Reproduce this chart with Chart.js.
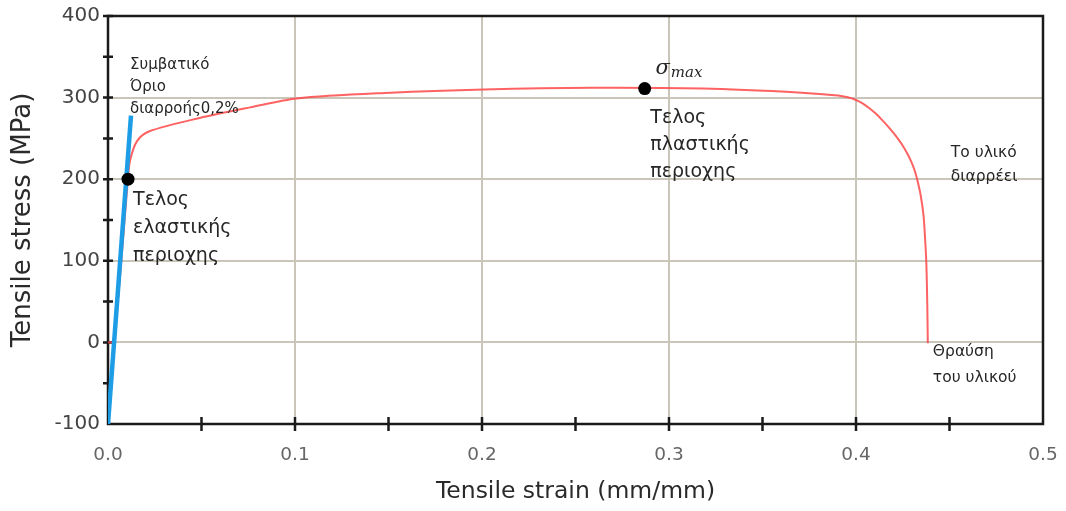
<!DOCTYPE html>
<html lang="el">
<head>
<meta charset="UTF-8">
<title>Tensile stress-strain</title>
<script src="https://cdn.jsdelivr.net/npm/chart.js"></script>
<style>
  html, body { margin: 0; padding: 0; background: #fff; }
  #wrap { width: 1066px; height: 511px; }
</style>
</head>
<body>
<div id="wrap"><canvas id="myChart" width="1066" height="511"></canvas></div>
<script>
// stress-strain curve
const curveStrain = [0, 0.003, 0.0107, 0.0118, 0.0156, 0.0225, 0.049, 0.076, 0.101, 0.151, 0.201, 0.259, 0.318, 0.371,
  0.3904, 0.3956, 0.3997, 0.4035, 0.4070, 0.4107, 0.4144, 0.4180, 0.4214, 0.4245, 0.4272, 0.4296, 0.4315, 0.4329,
  0.4346, 0.4361, 0.4369, 0.4376, 0.4381, 0.4384];
const curveStress = [0, 1, 200, 223, 247, 259, 275, 288, 299, 306, 310, 312, 311, 306,
  302.6, 300.4, 297.4, 293, 287.3, 280.1, 271.5, 262.4, 252.8, 242.8, 232.3, 221.3, 209.8, 198,
  180, 155.8, 128.9, 98.3, 49.3, -1];

// 0.2% offset line
const offsetStrain = [0, 0.0123];
const offsetStress = [-100, 278];

// marked points: end of elastic region, sigma max
const markStrain = [0.0107, 0.287];
const markStress = [200, 311];

const xMajor = [0, 0.1, 0.2, 0.3, 0.4, 0.5];
const xMinor = [0.05, 0.1, 0.15, 0.2, 0.25, 0.3, 0.35, 0.4, 0.45];
const yMajor = [-100, 0, 100, 200, 300, 400];
const yMinor = [-50, 0, 50, 100, 150, 200, 250, 300, 350, 400];

const toPts = (xs, ys) => xs.map((x, i) => ({ x: x, y: ys[i] }));

const FONT = '"DejaVu Sans", Verdana, sans-serif';

const notes = [
  { x: 0.0118, y: 340, lines: ['Συμβατικό', 'Όριο', 'διαρροής0,2%'], size: 15, lh: 22 },
  { x: 0.0134, y: 174, lines: ['Τελος', 'ελαστικής', 'περιοχης'], size: 19, lh: 28 },
  { x: 0.290, y: 275, lines: ['Τελος', 'πλαστικής', 'περιοχης'], size: 19, lh: 27 },
  { x: 0.4507, y: 232, lines: ['Το υλικό', 'διαρρέει'], size: 15.5, lh: 24 },
  { x: 0.4411, y: -12, lines: ['Θραύση', 'του υλικού'], size: 15.5, lh: 26 }
];

const framePlugin = {
  id: 'frame',
  beforeDatasetsDraw(chart) {
    const { ctx, chartArea: a, scales: { x, y } } = chart;
    ctx.save();
    ctx.strokeStyle = '#1a1a1a';
    ctx.lineWidth = 2.5;
    ctx.strokeRect(a.left, a.top, a.right - a.left, a.bottom - a.top);
    ctx.beginPath();
    xMinor.forEach(v => {
      const px = x.getPixelForValue(v);
      ctx.moveTo(px, a.bottom - 7);
      ctx.lineTo(px, a.bottom + 7);
    });
    yMinor.forEach(v => {
      const py = y.getPixelForValue(v);
      ctx.moveTo(a.left - 5, py);
      ctx.lineTo(a.left + 5, py);
    });
    ctx.stroke();
    ctx.restore();
  },
  afterDraw(chart) {
    const { ctx, scales: { x, y } } = chart;
    ctx.save();
    ctx.fillStyle = '#262626';
    ctx.textBaseline = 'middle';
    ctx.textAlign = 'left';
    notes.forEach(n => {
      const px = x.getPixelForValue(n.x);
      const py = y.getPixelForValue(n.y);
      ctx.font = n.size + 'px ' + FONT;
      n.lines.forEach((t, i) => ctx.fillText(t, px, py + i * n.lh));
    });
    // sigma max
    const sx = x.getPixelForValue(0.2928);
    const sy = y.getPixelForValue(336);
    ctx.font = 'italic 21px "DejaVu Serif", serif';
    ctx.fillText('σ', sx, sy);
    const w = ctx.measureText('σ').width;
    ctx.font = 'italic 15px "DejaVu Serif", serif';
    ctx.fillText('max', sx + w + 1, sy + 5);
    ctx.restore();
  }
};

const gridColor = (edge) => (c) => (c.tick && edge.includes(c.tick.value)) ? 'rgba(0,0,0,0)' : '#c9c5b8';

const ctx = document.getElementById('myChart').getContext('2d');
new Chart(ctx, {
  type: 'scatter',
  data: {
    datasets: [
      {
        label: 'marks',
        data: toPts(markStrain, markStress),
        showLine: false,
        pointRadius: 6.5,
        pointBackgroundColor: '#000',
        pointBorderWidth: 0,
        order: 0
      },
      {
        label: 'offset',
        data: toPts(offsetStrain, offsetStress),
        showLine: true,
        borderColor: '#1c9de6',
        borderWidth: 4.5,
        pointRadius: 0,
        order: 1
      },
      {
        label: 'curve',
        data: toPts(curveStrain, curveStress),
        showLine: true,
        borderColor: 'rgba(255,70,70,0.85)',
        borderWidth: 2,
        pointRadius: 0,
        tension: 0.3,
        order: 2
      }
    ]
  },
  options: {
    responsive: false,
    animation: false,
    layout: { padding: { top: 16, right: 23, left: 0, bottom: 0 } },
    plugins: { legend: { display: false }, tooltip: { enabled: false } },
    scales: {
      x: {
        type: 'linear',
        min: 0, max: 0.5,
        afterBuildTicks: s => { s.ticks = xMajor.map(v => ({ value: v })); },
        afterFit: s => { s.height = 87; s.paddingLeft = 0; s.paddingRight = 0; },
        ticks: {
          padding: 20,
          color: '#666',
          font: { family: FONT, size: 18.5 },
          callback: v => v.toFixed(1)
        },
        grid: { color: gridColor([0, 0.5]), lineWidth: 2, drawTicks: false },
        border: { display: false },
        title: {
          display: true,
          text: 'Tensile strain (mm/mm)',
          color: '#2a2a2a',
          font: { family: FONT, size: 23.5 },
          padding: { top: 0, bottom: 5 }
        }
      },
      y: {
        type: 'linear',
        min: -100, max: 400,
        afterBuildTicks: s => { s.ticks = yMajor.map(v => ({ value: v })); },
        afterFit: s => { s.width = 108; s.paddingTop = 0; s.paddingBottom = 0; },
        ticks: {
          padding: 8,
          color: '#444',
          font: { family: FONT, size: 20 },
          callback: v => String(v)
        },
        grid: { color: gridColor([-100, 400]), lineWidth: 2, drawTicks: false },
        border: { display: false },
        title: {
          display: true,
          text: 'Tensile stress (MPa)',
          color: '#2a2a2a',
          font: { family: FONT, size: 26 },
          padding: { top: 8, bottom: 0 }
        }
      }
    }
  },
  plugins: [framePlugin]
});
</script>
</body>
</html>
